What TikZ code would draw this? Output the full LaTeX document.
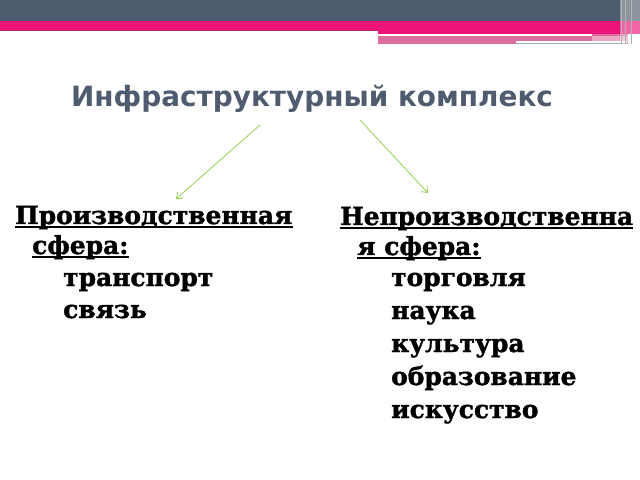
\documentclass[tikz,border=0pt]{standalone}
\usepackage{fontspec}
\setmainfont{DejaVu Serif}[BoldFeatures={FakeBold=1.5}]
\newfontfamily\titlefont{DejaVu Sans}
\usetikzlibrary{arrows.meta}
\definecolor{slate}{HTML}{4F5B6E}
\definecolor{magenta}{HTML}{EC1478}
\definecolor{rosy}{HTML}{DC6E9E}
\definecolor{leaf}{HTML}{92D050}
\begin{document}
\begin{tikzpicture}[x=1bp,y=-1bp,
    head/.style={anchor=base west,inner sep=0pt,font=\fontsize{25}{29}\selectfont\bfseries},
    item/.style={anchor=base west,inner sep=0pt,font=\fontsize{25}{29}\selectfont\bfseries},
    uline/.style={line width=1.6bp,black},
    arr/.style={-{Straight Barb[length=5bp,width=8bp]},leaf,line width=0.8bp}
                   ]
    \useasboundingbox (0,0) rectangle (640,480);

    % banner
    \fill[slate] (0,0) rectangle (640,21);
    \fill[magenta] (0,21) rectangle (640,30);
    \fill[magenta] (378,30) rectangle (640,34);
    \fill[slate!40!magenta] (0,30) rectangle (378,31);
    \fill[rosy] (378,34) rectangle (628,44);
    \fill[rosy!60!white] (592,36) rectangle (628,41);
    \fill[white] (378,34.5) rectangle (592,36);
    \fill[white] (516,41.5) rectangle (627,43);
    \fill[gray!70] (516,43) rectangle (627,44);
    \fill[white,opacity=0.35] (620,0) rectangle (640,44);
    \draw[gray!60,line width=1bp] (621,0) -- (621,44) (625,0) -- (625,44) (631,0) -- (631,44);

    \node[anchor=base,inner sep=0pt,text=slate,font=\fontsize{28}{32}\selectfont\titlefont\bfseries]
        (title) at (312,107) {Инфраструктурный комплекс};

    \coordinate (t1) at (260,125);
    \coordinate (p1) at (176,199);
    \coordinate (t2) at (360,120);
    \coordinate (p2) at (428,193);

    \node[head] (prod1) at (15,224) {Производственная};
    \node[head] (prod2) at (32,254) {сфера:};
    \node[item] (trans) at (63,286) {транспорт};
    \node[item] (svyaz) at (63,318) {связь};

    \node[head] (neprod1) at (340,225) {Непроизводственна};
    \node[head] (neprod2) at (357,255) {я сфера:};
    \node[item] (torg) at (391,286) {торговля};
    \node[item] (nauka) at (391,319) {наука};
    \node[item] (kult) at (391,352) {культура};
    \node[item] (obraz) at (391,385) {образование};
    \node[item] (isk) at (391,418) {искусство};

    % underlines
    \draw[uline] ([yshift=-3bp]prod1.base west) -- ([yshift=-3bp]prod1.base east);
    \draw[uline] ([yshift=-3bp]prod2.base west) -- ([yshift=-3bp]prod2.base east);
    \draw[uline] ([yshift=-3bp]neprod1.base west) -- ([yshift=-3bp]neprod1.base east);
    \draw[uline] ([yshift=-3bp]neprod2.base west) -- ([yshift=-3bp]neprod2.base east);

    \draw[arr] (t1) -- (p1);
    \draw[arr] (t2) -- (p2);

\end{tikzpicture}
\end{document}
